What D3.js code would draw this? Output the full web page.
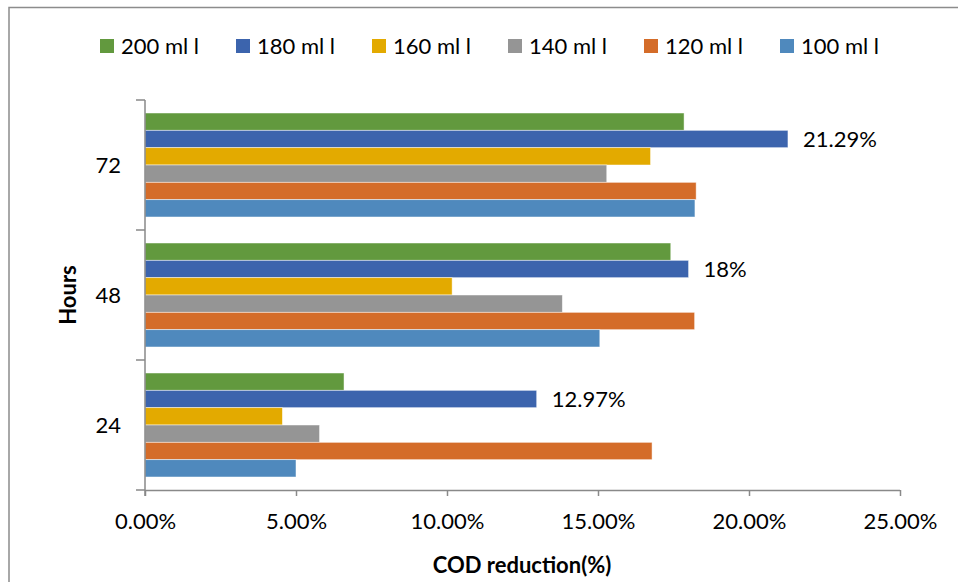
<!DOCTYPE html>
<html>
<head>
<meta charset="utf-8">
<script src="https://cdn.jsdelivr.net/npm/d3@7"></script>
<style>
  html, body { margin: 0; padding: 0; background: #fff; }
  svg { display: block; font-family: Lato, "Open Sans", sans-serif; }
</style>
</head>
<body>
<svg id="chart" width="958" height="582"></svg>
<script>
// Hours of treatment (drawn bottom to top)
const hours = ["24", "48", "72"];
// Dose series, listed in legend order (top bar in each group first)
const seriesNames = ["200 ml l", "180 ml l", "160 ml l", "140 ml l", "120 ml l", "100 ml l"];
const seriesColors = ["#62993e", "#3c64ad", "#e3aa00", "#959595", "#d46c29", "#4f89bd"];
// COD reduction (%) per series, for 24 / 48 / 72 hours
const values200 = [6.59, 17.41, 17.85];
const values180 = [12.97, 18, 21.29];
const values160 = [4.55, 10.17, 16.74];
const values140 = [5.78, 13.82, 15.29];
const values120 = [16.79, 18.20, 18.25];
const values100 = [5.00, 15.06, 18.21];
const seriesValues = [values200, values180, values160, values140, values120, values100];
// Data labels shown on the 180 ml l bars
const labelText = ["12.97%", "18%", "21.29%"];
const xTicks = [0, 5, 10, 15, 20, 25];

const FS = 22;
const svg = d3.select("#chart");

// Outer frame (top and left edges)
svg.append("path")
  .attr("d", "M9,582 L9,7.5 L958,7.5")
  .attr("fill", "none").attr("stroke", "#8c8c8c").attr("stroke-width", 1.5);

const plotLeft = 145, plotRight = 900, plotTop = 100, plotBottom = 490;

const x = d3.scaleLinear().domain([0, 25]).range([plotLeft, plotRight]);
const y = d3.scaleBand().domain(hours.slice().reverse()).range([plotTop, plotBottom])
  .paddingInner(0.2).paddingOuter(0.1);
const ySub = d3.scaleBand().domain(seriesNames).range([0, y.bandwidth()]);

// Bars
hours.forEach((h, hi) => {
  const g = svg.append("g").attr("transform", `translate(0,${y(h)})`);
  seriesNames.forEach((s, si) => {
    g.append("rect")
      .attr("x", x(0))
      .attr("y", ySub(s))
      .attr("width", x(seriesValues[si][hi]) - x(0))
      .attr("height", ySub.bandwidth())
      .attr("fill", seriesColors[si])
      .attr("stroke", "#ffffff").attr("stroke-opacity", 0.6).attr("stroke-width", 0.8);
  });
  // Value label next to the 180 ml l bar
  g.append("text")
    .attr("x", x(values180[hi]) + 15)
    .attr("y", ySub("180 ml l") + ySub.bandwidth() / 2)
    .attr("dy", "0.35em")
    .attr("font-size", FS).attr("fill", "#000")
    .text(labelText[hi]);
});

const axisColor = "#898989";

// X axis
const xAxis = svg.append("g").attr("transform", `translate(0,${plotBottom})`)
  .call(d3.axisBottom(x).tickValues(xTicks).tickSize(6).tickPadding(17)
    .tickFormat(d => d.toFixed(2) + "%"));
xAxis.select(".domain").attr("stroke", axisColor).attr("stroke-width", 1.5)
  .attr("d", `M${plotLeft},0.5H${plotRight}`);
xAxis.selectAll(".tick line").attr("stroke", axisColor).attr("stroke-width", 1.5);
xAxis.selectAll(".tick text").attr("font-size", FS).attr("fill", "#000")
  .attr("font-family", "Lato, sans-serif");

// Y axis: tick marks at group boundaries
const yAxisG = svg.append("g");
yAxisG.append("line").attr("x1", plotLeft).attr("x2", plotLeft)
  .attr("y1", plotTop).attr("y2", plotBottom + 6)
  .attr("stroke", axisColor).attr("stroke-width", 1.5);
const boundaries = d3.range(hours.length + 1)
  .map(i => plotTop + i * (plotBottom - plotTop) / hours.length);
yAxisG.selectAll("line.tk").data(boundaries).join("line").attr("class", "tk")
  .attr("x1", plotLeft - 9).attr("x2", plotLeft).attr("y1", d => d).attr("y2", d => d)
  .attr("stroke", axisColor).attr("stroke-width", 1.5);
yAxisG.selectAll("text").data(hours).join("text")
  .attr("x", 121).attr("y", d => y(d) + y.bandwidth() / 2)
  .attr("dy", "0.35em").attr("text-anchor", "end")
  .attr("font-size", FS).attr("fill", "#000").text(d => d);

// Axis titles
svg.append("text").attr("x", 522).attr("y", 573)
  .attr("text-anchor", "middle").attr("font-size", FS).attr("font-weight", "bold")
  .text("COD reduction(%)");
svg.append("text").attr("transform", `translate(76,${(plotTop + plotBottom) / 2}) rotate(-90)`)
  .attr("text-anchor", "middle").attr("font-size", FS).attr("font-weight", "bold")
  .text("Hours");

// Legend
const legend = svg.append("g");
seriesNames.forEach((s, i) => {
  const lx = 100 + i * 136;
  legend.append("rect").attr("x", lx).attr("y", 39).attr("width", 14).attr("height", 14)
    .attr("fill", seriesColors[i]);
  legend.append("text").attr("x", lx + 21).attr("y", 46).attr("dy", "0.35em")
    .attr("font-size", FS).attr("fill", "#000").text(s);
});
</script>
</body>
</html>
